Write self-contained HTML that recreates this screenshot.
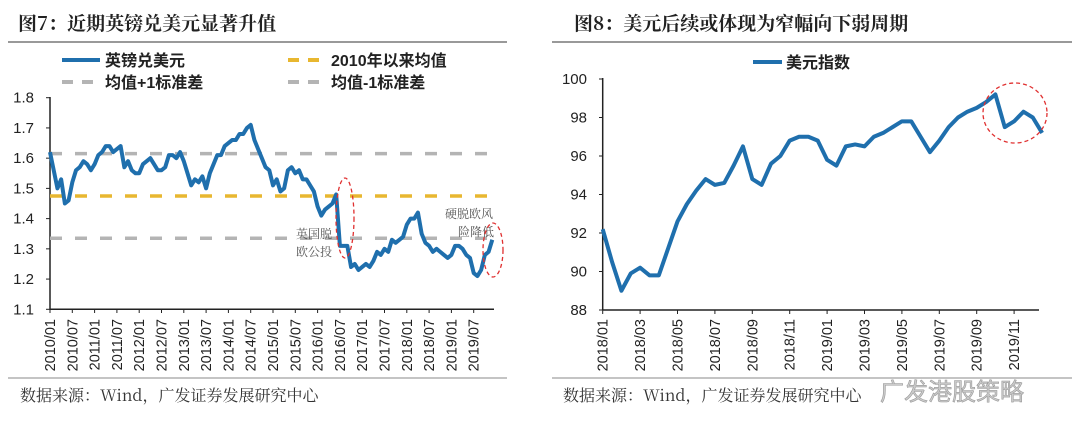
<!DOCTYPE html>
<html><head><meta charset="utf-8"><style>
html,body{margin:0;padding:0;background:#fff;width:1080px;height:437px;overflow:hidden}
svg{display:block}
text{font-family:"Liberation Sans","Noto Sans CJK SC",sans-serif}
.cn{font-family:"Noto Serif CJK SC","Liberation Serif",serif}
</style></head><body>
<svg id="s" width="1080" height="437" viewBox="0 0 1080 437">
<text x="18" y="30" font-size="19" font-weight="bold" fill="#222" class="cn">图7：近期英镑兑美元显著升值</text>
<line x1="8" y1="42" x2="507" y2="42" stroke="#333" stroke-width="1"/>
<text x="574" y="30" font-size="19" font-weight="bold" fill="#222" class="cn">图8：美元后续或体现为窄幅向下弱周期</text>
<line x1="552" y1="42" x2="1072" y2="42" stroke="#333" stroke-width="1"/>
<line x1="8" y1="378" x2="507" y2="378" stroke="#888" stroke-width="1"/>
<line x1="552" y1="378" x2="1072" y2="378" stroke="#888" stroke-width="1"/>
<text x="20" y="401" font-size="16" fill="#333" class="cn">数据来源：Wind，广发证券发展研究中心</text>
<text x="563" y="401" font-size="16" fill="#333" class="cn">数据来源：Wind，广发证券发展研究中心</text>
<text x="880" y="400" font-size="24" fill="#ccc" stroke="#999" stroke-width="0.6">广发港股策略</text>

<line x1="62" y1="60" x2="100" y2="60" stroke="#1f6fad" stroke-width="4"/>
<text x="105" y="66" font-size="16" font-weight="bold" fill="#222">英镑兑美元</text>
<line x1="288" y1="60" x2="326" y2="60" stroke="#e8b730" stroke-width="4" stroke-dasharray="11,9"/>
<text x="331" y="66" font-size="16" font-weight="bold" fill="#222">2010年以来均值</text>
<line x1="62" y1="82" x2="100" y2="82" stroke="#b4b4b4" stroke-width="4" stroke-dasharray="11,9"/>
<text x="105" y="88" font-size="16" font-weight="bold" fill="#222">均值+1标准差</text>
<line x1="288" y1="82" x2="326" y2="82" stroke="#b4b4b4" stroke-width="4" stroke-dasharray="11,9"/>
<text x="331" y="88" font-size="16" font-weight="bold" fill="#222">均值-1标准差</text>
<line x1="753" y1="62" x2="782" y2="62" stroke="#1f6fad" stroke-width="4"/>
<text x="786" y="68" font-size="16" font-weight="bold" fill="#222">美元指数</text>
<g id="L"></g><g id="R"></g>
</svg>
<script>
const leftTicks=["2010/01","2010/07","2011/01","2011/07","2012/01","2012/07","2013/01","2013/07","2014/01","2014/07","2015/01","2015/07","2016/01","2016/07","2017/01","2017/07","2018/01","2018/07","2019/01","2019/07"];
const leftYTicks=[1.1,1.2,1.3,1.4,1.5,1.6,1.7,1.8];
const gbpusd=[1.62,1.56,1.50,1.53,1.45,1.46,1.52,1.56,1.57,1.59,1.58,1.56,
1.58,1.61,1.62,1.64,1.64,1.62,1.63,1.64,1.57,1.59,1.56,1.55,
1.55,1.58,1.59,1.60,1.58,1.56,1.56,1.57,1.61,1.61,1.60,1.62,
1.59,1.55,1.51,1.53,1.52,1.54,1.50,1.55,1.58,1.61,1.61,1.64,
1.65,1.66,1.66,1.68,1.68,1.70,1.71,1.66,1.63,1.60,1.57,1.56,
1.51,1.53,1.49,1.50,1.56,1.57,1.55,1.56,1.53,1.53,1.51,1.49,
1.44,1.41,1.43,1.44,1.45,1.48,1.31,1.31,1.31,1.24,1.25,1.23,
1.24,1.25,1.24,1.26,1.29,1.28,1.30,1.29,1.33,1.32,1.33,1.34,
1.38,1.40,1.40,1.42,1.35,1.32,1.31,1.29,1.30,1.29,1.28,1.27,
1.28,1.31,1.31,1.30,1.28,1.27,1.22,1.21,1.23,1.28,1.29,1.33];
const refLevels=[1.615,1.475,1.335];
const rightTicks=["2018/01","2018/03","2018/05","2018/07","2018/09","2018/11","2019/01","2019/03","2019/05","2019/07","2019/09","2019/11"];
const rightYTicks=[88,90,92,94,96,98,100];
const dxy=[92.2,90.5,89.0,89.9,90.2,89.8,89.8,91.2,92.6,93.5,94.2,94.8,94.5,94.6,95.5,96.5,94.8,94.5,95.6,96.0,96.8,97.0,97.0,96.8,95.8,95.5,96.5,96.6,96.5,97.0,97.2,97.5,97.8,97.8,97.0,96.2,96.8,97.5,98.0,98.3,98.5,98.8,99.2,97.5,97.8,98.3,98.0,97.2];
const NS="http://www.w3.org/2000/svg";
function mk(p,t,a){const e=document.createElementNS(NS,t);for(const k in a)e.setAttribute(k,a[k]);p.appendChild(e);return e;}
const L=document.getElementById('L');
const lx=m=>50+m*(22.3/6), ly=v=>97.7+(1.8-v)*(211.6/0.7);
mk(L,'line',{x1:50,y1:97,x2:50,y2:310,stroke:'#222','stroke-width':1.5});
mk(L,'line',{x1:50,y1:309.3,x2:494,y2:309.3,stroke:'#222','stroke-width':1.5});
leftYTicks.forEach(v=>{const y=ly(v);mk(L,'line',{x1:46,y1:y,x2:50,y2:y,stroke:'#222'});
const t=mk(L,'text',{x:34,y:y+5,'font-size':15,'text-anchor':'end',fill:'#222'});t.textContent=v.toFixed(1);
});
leftTicks.forEach((s,i)=>{const x=lx(i*6);mk(L,'line',{x1:x,y1:309,x2:x,y2:313,stroke:'#222'});
const t=mk(L,'text',{x:0,y:0,'font-size':14.5,'text-anchor':'end',fill:'#222',transform:`translate(${x+5},319) rotate(-90)`});t.textContent=s;
});
const cols=['#b4b4b4','#e8b730','#b4b4b4'];
refLevels.forEach((v,i)=>{const l=mk(L,'line',{x1:50,y1:ly(v),x2:494,y2:ly(v),stroke:cols[i],'stroke-width':3.5,'stroke-dasharray':'12,13'});
});
const lp=mk(L,'polyline',{points:gbpusd.map((v,i)=>lx(i)+','+ly(v)).join(' '),fill:'none',stroke:'#1f6fad','stroke-width':4,'stroke-linejoin':'round'});

[["英国脱",296,238],["欧公投",296,256],["硬脱欧风",445,218],["险降低",458,236]].forEach(a=>{const t=mk(L,'text',{x:a[1],y:a[2],'font-size':12,fill:'#555',class:'cn'});t.textContent=a[0];
});
let e1=mk(L,'ellipse',{cx:345,cy:218,rx:9,ry:40,fill:'none',stroke:'#e03030','stroke-width':1.3,'stroke-dasharray':'4,3'});

let e2=mk(L,'ellipse',{cx:493,cy:250,rx:10,ry:27,fill:'none',stroke:'#e03030','stroke-width':1.3,'stroke-dasharray':'4,3'});

const R=document.getElementById('R');
const rx=m=>602.7+m*(37.4/2), ry=v=>79+(100-v)*(231/12);
mk(R,'line',{x1:602.7,y1:78,x2:602.7,y2:310,stroke:'#222','stroke-width':1.5});
mk(R,'line',{x1:602.7,y1:310,x2:1039,y2:310,stroke:'#222','stroke-width':1.5});
rightYTicks.forEach(v=>{const y=ry(v);mk(R,'line',{x1:599,y1:y,x2:603,y2:y,stroke:'#222'});
const t=mk(R,'text',{x:587,y:y+5,'font-size':15,'text-anchor':'end',fill:'#222'});t.textContent=v;
});
rightTicks.forEach((s,i)=>{const x=rx(i*2);mk(R,'line',{x1:x,y1:310,x2:x,y2:314,stroke:'#222'});
const t=mk(R,'text',{x:0,y:0,'font-size':14.5,'text-anchor':'end',fill:'#222',transform:`translate(${x+5},319) rotate(-90)`});t.textContent=s;
});
const rp=mk(R,'polyline',{points:dxy.map((v,i)=>rx(i/2)+','+ry(v)).join(' '),fill:'none',stroke:'#1f6fad','stroke-width':4,'stroke-linejoin':'round'});

let e3=mk(R,'ellipse',{cx:1015,cy:113,rx:32,ry:30,fill:'none',stroke:'#e03030','stroke-width':1.3,'stroke-dasharray':'4,3'});

</script>
</body></html>
